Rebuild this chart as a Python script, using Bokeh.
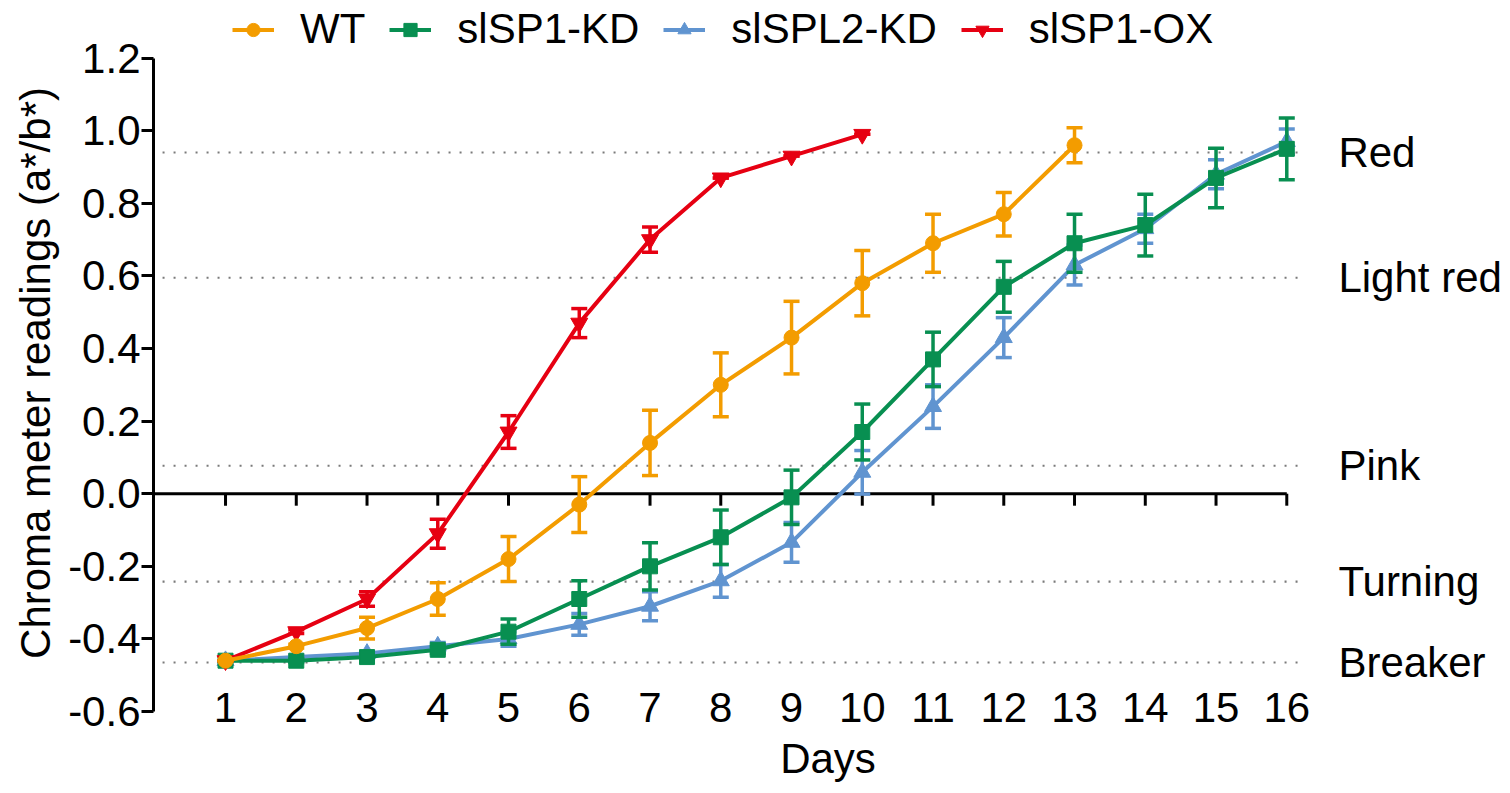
from bokeh.plotting import figure
from bokeh.models import (Range1d, FixedTicker, NumeralTickFormatter, Legend, LegendItem,
                          ColumnDataSource, LabelSet)
from bokeh.core.properties import value
from bokeh.embed import file_html
from bokeh.resources import INLINE

# ---------------- data ----------------
days = [1, 2, 3, 4, 5, 6, 7, 8, 9, 10, 11, 12, 13, 14, 15, 16]
x_ticks = days
y_ticks = [-0.6, -0.4, -0.2, 0.0, 0.2, 0.4, 0.6, 0.8, 1.0, 1.2]

wt_days = [1, 2, 3, 4, 5, 6, 7, 8, 9, 10, 11, 12, 13]
wt = [-0.46, -0.42, -0.37, -0.29, -0.18, -0.03, 0.14, 0.30, 0.43, 0.58, 0.69, 0.77, 0.96]
wt_err = [0.0, 0.005, 0.03, 0.045, 0.062, 0.077, 0.09, 0.088, 0.10, 0.09, 0.08, 0.06, 0.048]

kd1_days = days
kd1 = [-0.46, -0.46, -0.45, -0.43, -0.38, -0.29, -0.20, -0.12, -0.01, 0.17, 0.37, 0.57, 0.69, 0.74, 0.87, 0.95]
kd1_err = [0.0, 0.005, 0.005, 0.01, 0.035, 0.05, 0.065, 0.075, 0.075, 0.077, 0.075, 0.07, 0.08, 0.085, 0.082, 0.085]

kd2_days = days
kd2 = [-0.46, -0.45, -0.44, -0.42, -0.40, -0.36, -0.31, -0.24, -0.134, 0.059, 0.24, 0.43, 0.63, 0.73, 0.88, 0.97]
kd2_err = [0.0, 0.005, 0.005, 0.01, 0.02, 0.03, 0.04, 0.045, 0.055, 0.06, 0.06, 0.055, 0.055, 0.04, 0.04, 0.035]

ox_days = [1, 2, 3, 4, 5, 6, 7, 8, 9, 10]
ox = [-0.46, -0.38, -0.29, -0.11, 0.17, 0.47, 0.70, 0.87, 0.93, 0.99]
ox_err = [0.0, 0.005, 0.02, 0.04, 0.045, 0.04, 0.035, 0.0, 0.0, 0.0]

stages = ["Red", "Light red", "Pink", "Turning", "Breaker"]
stage_levels = [0.94, 0.595, 0.077, -0.242, -0.465]

series_names = ["WT", "slSP1-KD", "slSPL2-KD", "slSP1-OX"]

# ---------------- style ----------------
FONT = "Liberation Sans"
FS = "42px"
C_WT = "#F39C00"
C_KD1 = "#088F51"
C_KD2 = "#6094D0"
C_OX = "#E60012"

# frame covers the legend (top) and stage labels (right); the axes are bounded
p = figure(frame_width=1349, frame_height=745,
           x_range=Range1d(-0.018, 19.049), y_range=Range1d(-0.6936, 1.3587),
           output_backend="svg", toolbar_location=None,
           min_border_left=153, min_border_right=0, min_border_top=0, min_border_bottom=40,
           outline_line_color=None, background_fill_color="white", border_fill_color="white")
p.grid.visible = False

# y axis
ya = p.yaxis[0]
ya.bounds = (y_ticks[0], y_ticks[-1])
ya.ticker = FixedTicker(ticks=y_ticks)
ya.formatter = NumeralTickFormatter(format="0.0")
ya.axis_line_width = 3
ya.axis_line_color = "black"
ya.major_tick_line_width = 3
ya.major_tick_line_color = "black"
ya.major_tick_out = 12
ya.major_tick_in = 0
ya.minor_tick_line_color = None
ya.major_label_text_font = FONT
ya.major_label_text_font_size = FS
ya.major_label_text_color = "black"
ya.major_label_standoff = 1
ya.axis_label = "Chroma meter readings (a*/b*)"
ya.axis_label_text_font = FONT
ya.axis_label_text_font_size = FS
ya.axis_label_text_font_style = "normal"
ya.axis_label_text_color = "black"
ya.axis_label_standoff = 6

# x axis: labels only, the axis line is drawn at y = 0
xa = p.xaxis[0]
xa.bounds = (0, days[-1])
xa.ticker = FixedTicker(ticks=x_ticks)
xa.axis_line_color = None
xa.major_tick_line_color = None
xa.minor_tick_line_color = None
xa.major_label_text_font = FONT
xa.major_label_text_font_size = FS
xa.major_label_text_color = "black"
xa.major_label_standoff = -59
xa.axis_label = "Days"
xa.axis_label_text_font = FONT
xa.axis_label_text_font_size = FS
xa.axis_label_text_font_style = "normal"
xa.axis_label_text_color = "black"
xa.axis_label_standoff = 10

# dotted stage lines
p.segment(x0=0.11, x1=16.22, y0=stage_levels, y1=stage_levels,
          line_color="#7a7a7a", line_width=2.2, line_dash="2 9")

# zero line with ticks
p.segment(x0=0, x1=days[-1], y0=0, y1=0, line_color="black", line_width=3)
p.segment(x0=x_ticks, x1=x_ticks, y0=0, y1=-0.033, line_color="black", line_width=3)


def draw(xs, ys, errs, color, marker, size):
    lo = [y - e for y, e in zip(ys, errs)]
    hi = [y + e for y, e in zip(ys, errs)]
    p.segment(x0=xs, x1=xs, y0=lo, y1=hi, line_color=color, line_width=3.5)
    p.scatter(x=xs + xs, y=lo + hi, marker="dash", size=16, line_color=color, line_width=3.5)
    ln = p.line(x=xs, y=ys, line_color=color, line_width=4)
    sc = p.scatter(x=xs, y=ys, marker=marker, size=size, fill_color=color, line_color=color)
    return [ln, sc]


r_kd2 = draw(kd2_days, kd2, kd2_err, C_KD2, "triangle", 17)
r_kd1 = draw(kd1_days, kd1, kd1_err, C_KD1, "square", 15)
r_ox = draw(ox_days, ox, ox_err, C_OX, "inverted_triangle", 17)
r_wt = draw(wt_days, wt, wt_err, C_WT, "circle", 15)

legend = Legend(items=[LegendItem(label=series_names[0], renderers=r_wt),
                       LegendItem(label=series_names[1], renderers=r_kd1),
                       LegendItem(label=series_names[2], renderers=r_kd2),
                       LegendItem(label=series_names[3], renderers=r_ox)],
                orientation="horizontal", location=(79, 692),
                glyph_width=42, glyph_height=33, label_standoff=26, spacing=24,
                padding=0, margin=0, border_line_color=None, background_fill_alpha=0,
                label_text_font=FONT, label_text_font_size=FS, label_text_color="black")
p.add_layout(legend)

src = ColumnDataSource(data=dict(stage=stages, level=stage_levels))
labels = LabelSet(x=16.73, y="level", text="stage", source=src,
                  text_font=value(FONT), text_font_size=value(FS), text_color="black",
                  text_align="left", text_baseline="middle")
p.add_layout(labels)

open("out.html", "w").write(file_html(p, INLINE))
